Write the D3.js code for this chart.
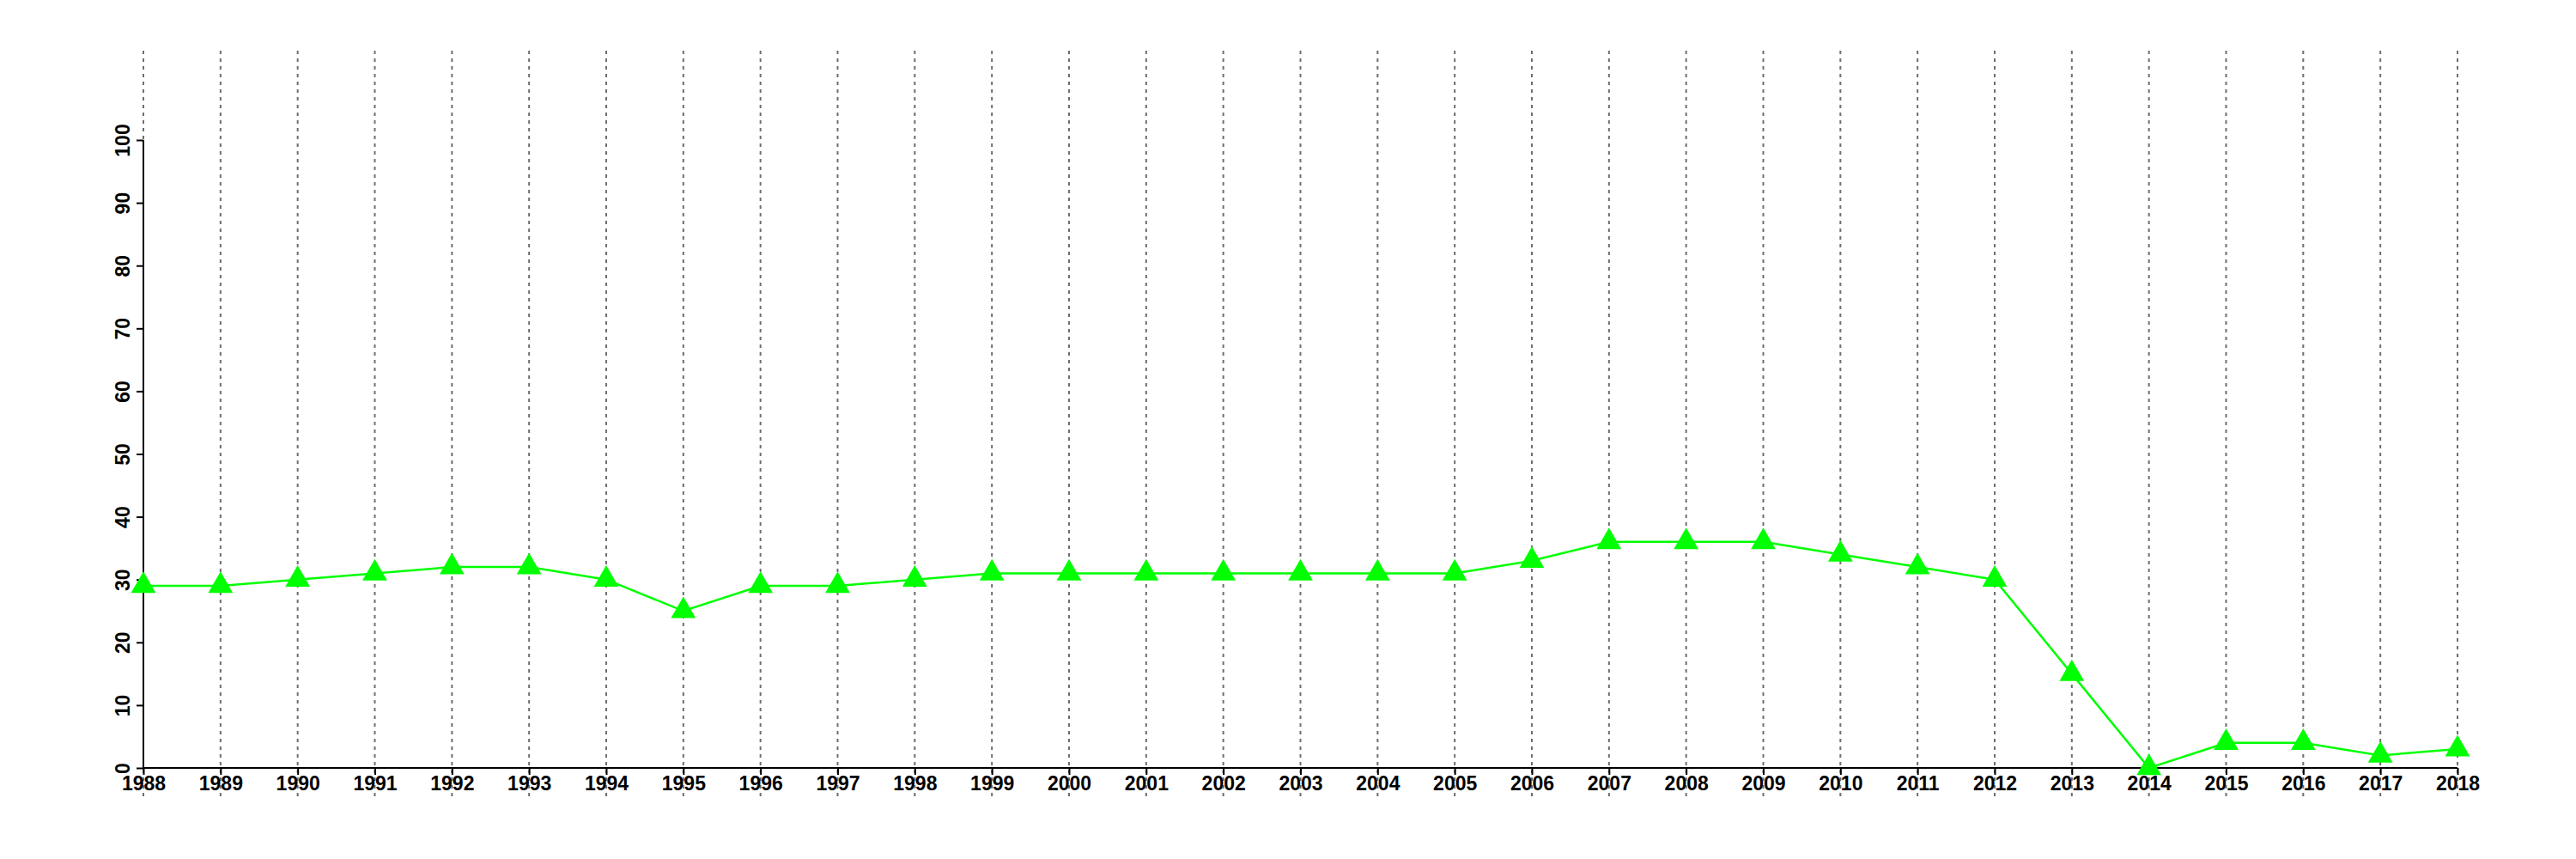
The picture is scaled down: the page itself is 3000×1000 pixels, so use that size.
<!DOCTYPE html>
<html>
<head>
<meta charset="utf-8">
<script src="https://cdn.jsdelivr.net/npm/d3@7"></script>
<style>
  html, body { margin: 0; padding: 0; background: #fff; }
  svg { display: block; }
  text { font-family: "Liberation Sans", Arial, sans-serif; font-weight: bold; }
</style>
</head>
<body>
<script>
const years = [1988,1989,1990,1991,1992,1993,1994,1995,1996,1997,1998,1999,2000,2001,2002,2003,2004,2005,2006,2007,2008,2009,2010,2011,2012,2013,2014,2015,2016,2017,2018];
const values = [29,29,30,31,32,32,30,25,29,29,30,31,31,31,31,31,31,31,33,36,36,36,34,32,30,15,0,4,4,2,3];
const yTicks = [0,10,20,30,40,50,60,70,80,90,100];

const W = 3000, H = 1000;
const svg = d3.select("body").append("svg").attr("width", W).attr("height", H);

const x = d3.scaleLinear().domain([1988, 2018]).range([167, 2862]);
const y = d3.scaleLinear().domain([0, 100]).range([894, 163]);

// dashed vertical gridlines
svg.append("g").selectAll("line").data(years).join("line")
  .attr("x1", d => x(d)).attr("x2", d => x(d))
  .attr("y1", 59).attr("y2", 927)
  .attr("stroke", "#6e6e6e").attr("stroke-width", 2)
  .attr("stroke-dasharray", "4,5");

// x axis
const xAxis = svg.append("g").attr("transform", `translate(0,${y(0)})`)
  .call(d3.axisBottom(x).tickValues(years).tickFormat(d3.format("d")).tickSize(8).tickPadding(2));
xAxis.select(".domain").attr("stroke", "#000").attr("stroke-width", 2)
  .attr("d", `M${x(1988)},0H${x(2018)}`);
xAxis.selectAll(".tick line").attr("stroke", "#000").attr("stroke-width", 2);
xAxis.selectAll(".tick text").attr("fill", "#000").attr("font-size", "23px")
  .attr("dy", null).attr("y", 26);

// y axis
const yAxis = svg.append("g").attr("transform", `translate(${x(1988)},0)`)
  .call(d3.axisLeft(y).tickValues(yTicks).tickSize(8).tickPadding(0));
yAxis.select(".domain").attr("stroke", "#000").attr("stroke-width", 2)
  .attr("d", `M0,${y(0)}V${y(100)}`);
yAxis.selectAll(".tick line").attr("stroke", "#000").attr("stroke-width", 2);
yAxis.selectAll(".tick text").attr("fill", "#000").attr("font-size", "23px")
  .attr("x", null).attr("dy", null).attr("text-anchor", "middle")
  .attr("transform", "translate(-16,0) rotate(-90)");

// data line
const line = d3.line().x((d, i) => x(years[i])).y(d => y(d));
svg.append("path").datum(values)
  .attr("d", line).attr("fill", "none")
  .attr("stroke", "#00ff00").attr("stroke-width", 2.5);

// triangle markers
const sym = d3.symbol().type(d3.symbolTriangle).size(360);
svg.append("g").selectAll("path").data(values).join("path")
  .attr("d", sym)
  .attr("transform", (d, i) => `translate(${x(years[i])},${y(d)})`)
  .attr("fill", "#00ff00");
</script>
</body>
</html>
